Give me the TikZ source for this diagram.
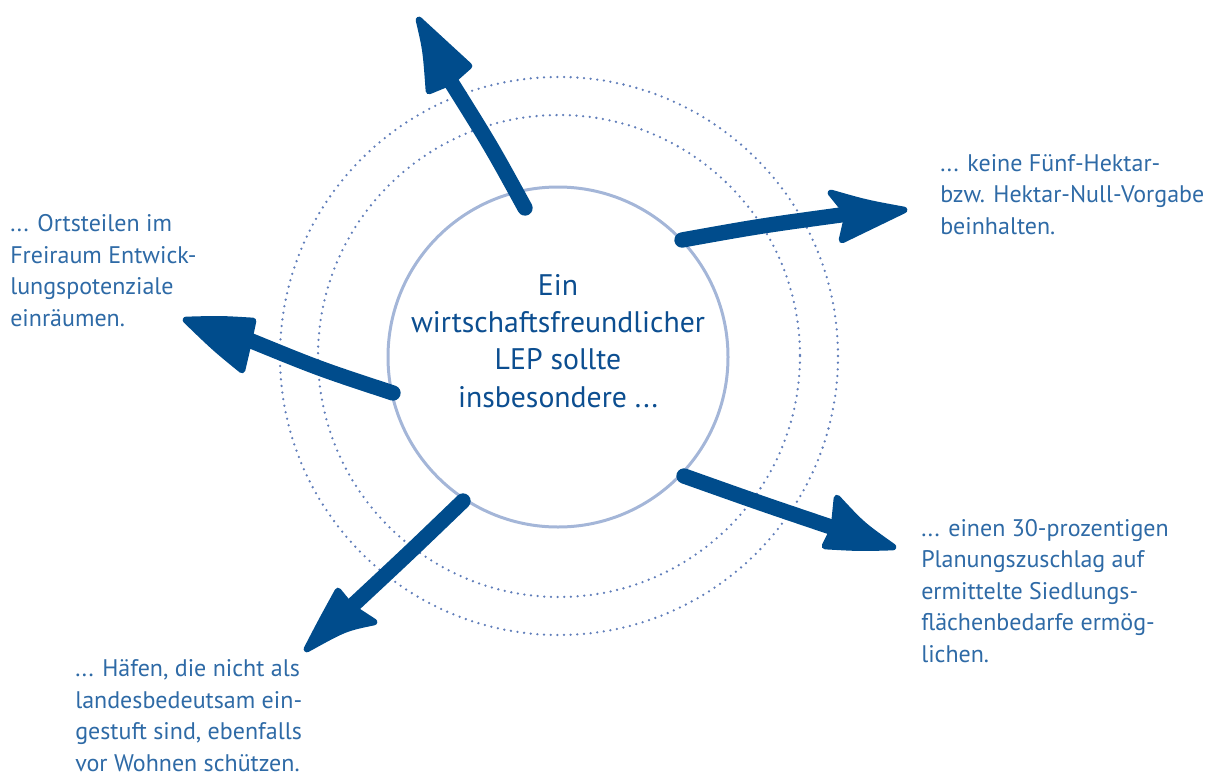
\documentclass[tikz,border=0pt]{standalone}
\usepackage{fontspec}
\setmainfont{PT Sans}
\definecolor{arrowblue}{RGB}{0,76,140}
\definecolor{ringblue}{RGB}{164,182,216}
\definecolor{dotblue}{RGB}{96,126,186}
\definecolor{labelblue}{RGB}{46,106,166}
\definecolor{centerblue}{RGB}{12,78,144}
\begin{document}
\begin{tikzpicture}[x=0.75pt,y=-0.75pt,
  lbl/.style={inner sep=0pt, align=left, text=labelblue, font=\fontsize{18}{23.6}\selectfont},
  shaft/.style={draw=arrowblue, line width=11.5pt, line cap=round},
  head/.style={draw=arrowblue, fill=arrowblue, line width=5pt, line join=round},
  dotring/.style={draw=dotblue, line width=1.9pt, line cap=round, dash pattern=on 0pt off 5pt}]
\path[use as bounding box] (0,0) rectangle (1217,778);

% rings
\draw[dotring] (559,356) circle[radius=279];
\draw[dotring] (559,356) circle[radius=241];
\node[circle, draw=ringblue, line width=2.25pt, minimum size=255pt, inner sep=0pt] (c) at (558,357) {};
\node[align=center, text=centerblue, font=\fontsize{22.3}{28}\selectfont, inner sep=0pt, anchor=base]
      (ct) at (558,407) {Ein\\wirtschaftsfreundlicher\\LEP sollte\\insbesondere ...};

% labels (anchored at the baseline of their last line)
\node[lbl, anchor=base west] (l1) at (10,326) {... Ortsteilen im\\Freiraum Entwick-\\lungspotenziale\\einräumen.};
\node[lbl, anchor=base west] (l2) at (940,234) {... keine Fünf-Hektar-\\bzw. Hektar-Null-Vorgabe\\beinhalten.};
\node[lbl, anchor=base west] (l3) at (921,662) {... einen 30-prozentigen\\Planungszuschlag auf\\ermittelte Siedlungs-\\flächenbedarfe ermög-\\lichen.};
\node[lbl, anchor=base west] (l4) at (75,771) {... Häfen, die nicht als\\landesbedeutsam ein-\\gestuft sind, ebenfalls\\vor Wohnen schützen.};

% arrow coordinates
\coordinate (t1) at (525,208); \coordinate (q1) at (451,82);
\coordinate (t2) at (682,240); \coordinate (q2) at (848,214);
\coordinate (t3) at (684,476); \coordinate (q3) at (834,528);
\coordinate (t4) at (393,393); \coordinate (q4) at (249,340);
\coordinate (t5) at (463,501); \coordinate (q5) at (351,607);

% top arrow
\draw[shaft] (t1) .. controls (491,146) .. (q1);
\draw[head] (419,20) .. controls (426,50) .. (429,91) -- (q1) -- (469,66) -- cycle;
% right arrow
\draw[shaft] (t2) .. controls (760,226) .. (q2);
\draw[head] (904,210) .. controls (866,203) .. (831,193) -- (q2) -- (842,240) -- cycle;
% lower right arrow
\draw[shaft] (t3) .. controls (760,503) .. (q3);
\draw[head] (893,547) .. controls (862,525) .. (837,498) -- (q3) -- (825,546) .. controls (860,548) .. cycle;
% left arrow
\draw[shaft] (t4) .. controls (320,369) .. (q4);
\draw[head] (186,320) .. controls (220,319) .. (253,321) -- (q4) -- (242,370) .. controls (215,348) .. cycle;
% lower left arrow
\draw[shaft] (t5) .. controls (410,552) .. (q5);
\draw[head] (307,649) .. controls (321,622) .. (338,591) -- (q5) -- (374,622) .. controls (345,628) .. cycle;
\end{tikzpicture}
\end{document}
